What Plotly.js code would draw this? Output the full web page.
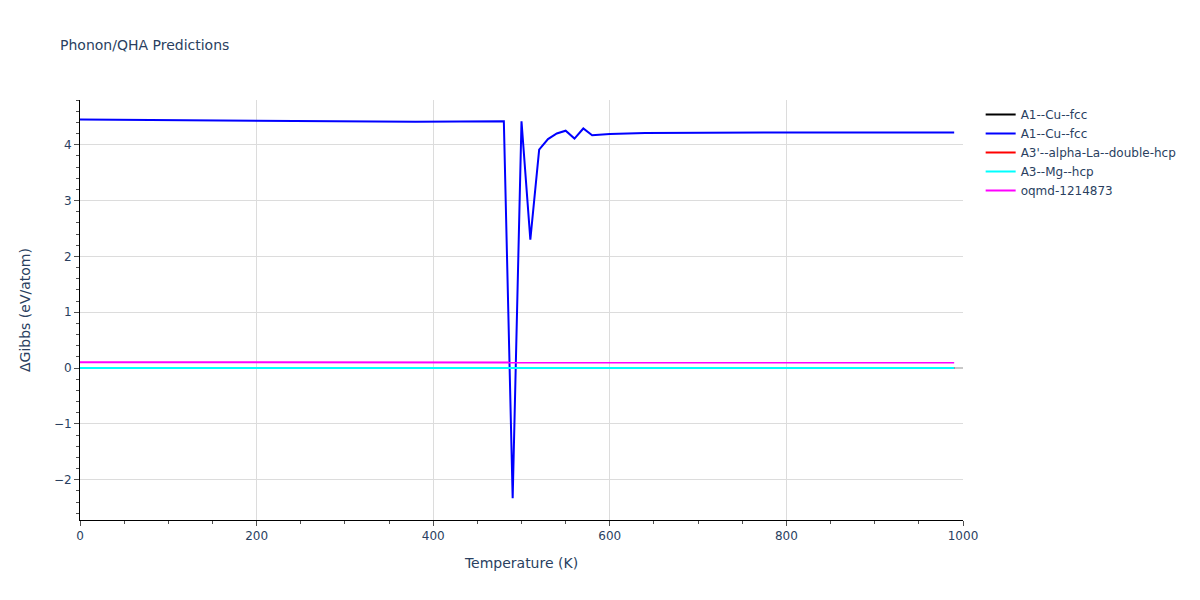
<!DOCTYPE html>
<html>
<head>
<meta charset="utf-8">
<script src="https://cdn.plot.ly/plotly-3.0.1.min.js"></script>
<style>html,body{margin:0;padding:0;background:#fff;}#chart{width:1200px;height:600px;}</style>
</head>
<body>
<div id="chart"></div>
<script>
// Blue A1--Cu--fcc series (temperature in K, ΔGibbs in eV/atom)
const blueT = [0, 100, 200, 300, 380, 480, 490, 500, 510, 520, 530, 540, 550, 560, 570, 580, 600, 640, 720, 800, 900, 990];
const blueG = [4.45, 4.44, 4.43, 4.42, 4.41, 4.42, -2.33, 4.42, 2.30, 3.91, 4.10, 4.20, 4.25, 4.11, 4.29, 4.17, 4.19, 4.21, 4.22, 4.22, 4.22, 4.22];

// Flat reference series
const flatT = [0, 100, 200, 300, 400, 500, 600, 700, 800, 900, 990];
const blackG = [0, 0, 0, 0, 0, 0, 0, 0, 0, 0, 0];
const redG = [0, 0, 0, 0, 0, 0, 0, 0, 0, 0, 0];
const cyanG = [0, 0, 0, 0, 0, 0, 0, 0, 0, 0, 0];
const magentaG = [0.105, 0.104, 0.103, 0.102, 0.101, 0.1, 0.1, 0.099, 0.099, 0.098, 0.098];

const names = ["A1--Cu--fcc", "A1--Cu--fcc", "A3'--alpha-La--double-hcp", "A3--Mg--hcp", "oqmd-1214873"];
const colors = ["black", "blue", "red", "cyan", "magenta"];

const traces = [
  {x: flatT, y: blackG, name: names[0], line: {color: colors[0], width: 2}},
  {x: blueT, y: blueG, name: names[1], line: {color: colors[1], width: 2}},
  {x: flatT, y: redG, name: names[2], line: {color: colors[2], width: 2}},
  {x: flatT, y: cyanG, name: names[3], line: {color: colors[3], width: 2}},
  {x: flatT, y: magentaG, name: names[4], line: {color: colors[4], width: 2}}
].map(t => Object.assign({type: 'scatter', mode: 'lines'}, t));

const layout = {
  width: 1200, height: 600,
  margin: {l: 80, r: 237, t: 100, b: 80},
  paper_bgcolor: 'white', plot_bgcolor: 'white',
  font: {color: '#2a3f5f', family: 'DejaVu Sans', size: 12},
  title: {text: 'Phonon/QHA Predictions', x: 0.05, xanchor: 'left', font: {size: 14}},
  showlegend: true,
  legend: {x: 1.02, y: 1, xanchor: 'left', yanchor: 'top'},
  xaxis: {
    title: {text: 'Temperature (K)', standoff: 15},
    range: [0, 1000], dtick: 200,
    showline: true, linecolor: 'black', linewidth: 1,
    ticks: 'outside', ticklen: 5, tickcolor: 'rgb(80,80,80)',
    gridcolor: 'rgb(220,220,220)', zeroline: false,
    minor: {ticks: 'outside', dtick: 50, ticklen: 3, tickcolor: 'rgb(80,80,80)', showgrid: false}
  },
  yaxis: {
    title: {text: 'ΔGibbs (eV/atom)', standoff: 19},
    range: [-2.72, 4.8], dtick: 1,
    showline: true, linecolor: 'black', linewidth: 1,
    ticks: 'outside', ticklen: 5, tickcolor: 'rgb(80,80,80)',
    gridcolor: 'rgb(220,220,220)', zeroline: true, zerolinecolor: 'rgb(200,200,200)', zerolinewidth: 2,
    minor: {ticks: 'outside', dtick: 0.2, ticklen: 3, tickcolor: 'rgb(80,80,80)', showgrid: false}
  }
};

Plotly.newPlot('chart', traces, layout, {displayModeBar: false});
</script>
</body>
</html>
